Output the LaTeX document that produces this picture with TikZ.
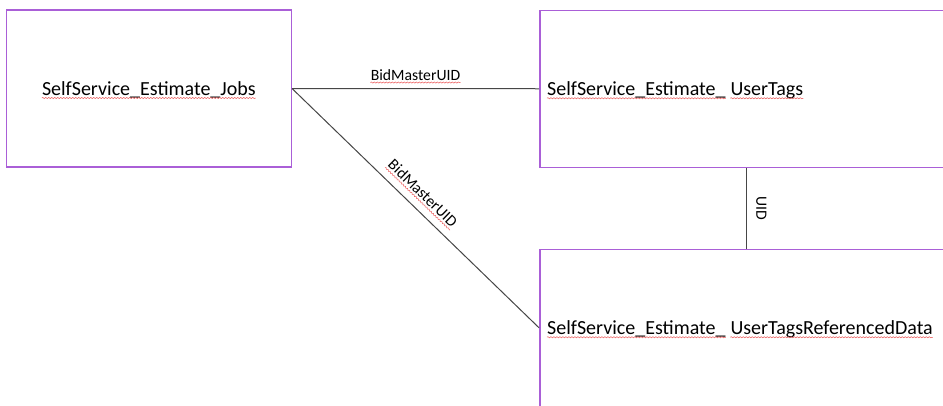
\documentclass[tikz,border=0pt]{standalone}
\usepackage{fontspec}
\setmainfont{Carlito}
\usepackage{tikz}
\usetikzlibrary{calc,decorations.pathmorphing}

\definecolor{boxpurple}{RGB}{170,95,215}
\definecolor{linegray}{RGB}{70,70,70}
\definecolor{wavered}{RGB}{235,90,90}

\tikzset{
  table/.style={draw=boxpurple, line width=1.5pt, rectangle, minimum height=157pt},
  tablename/.style={inner sep=0pt, font=\fontsize{20}{24}\selectfont},
  relation/.style={draw=linegray, line width=1pt},
  keylabel/.style={inner sep=0pt, font=\fontsize{15.7}{19}\selectfont},
  spell/.style={draw=wavered, line width=0.5pt, decorate,
    decoration={snake, segment length=3pt, amplitude=0.6pt}}
}

% red wavy line under a text node
\newcommand\spellmark[1]{\draw[spell] ($(#1.base west)!2.5pt!-90:(#1.base east)$) -- ($(#1.base east)!2.5pt!90:(#1.base west)$);}

\begin{document}
\begin{tikzpicture}[x=1pt, y=-1pt]
    \useasboundingbox (0,0) rectangle (943,405);
    \clip (0,0) rectangle (943,405);

    % Tables
    \node[table, minimum width=285pt] (jobs) at (148.8,88.5) {};
    \node[table, anchor=north west, minimum width=460pt] (tags) at (539,9.5) {};
    \node[table, anchor=north west, minimum width=460pt] (refdata) at (539,248.5) {};

    % Table names
    \node[tablename, anchor=base] (jobsname) at ([yshift=-7pt]jobs.center) {SelfService\_Estimate\_Jobs};
    \node[tablename, anchor=base west] (tagsA) at ([xshift=8pt, yshift=-7pt]tags.west) {SelfService\_Estimate\_};
    \node[tablename, anchor=base west] (tagsB) at ([xshift=4.5pt]tagsA.base east) {UserTags};
    \node[tablename, anchor=base west] (refA) at ([xshift=8pt, yshift=-7pt]refdata.west) {SelfService\_Estimate\_};
    \node[tablename, anchor=base west] (refB) at ([xshift=4.5pt]refA.base east) {UserTagsReferencedData};

    % Relations
    \draw[relation] (jobs.east) -- (tags.west)
        node[keylabel, midway, above=8pt] (bidtop) {BidMasterUID};
    \draw[relation] (jobs.east) -- (refdata.west)
        node[keylabel, pos=0.485, sloped, above=10pt] (biddiag) {BidMasterUID};
    \draw[relation] (tags.south west) ++(207.7,0) coordinate (uidtop) -- (uidtop |- refdata.north)
        node[keylabel, midway, sloped, above=9pt] (uid) {UID};

    % Spelling marks
    \foreach \n in {jobsname, tagsA, tagsB, refA, refB, bidtop, biddiag}
        \spellmark{\n};
\end{tikzpicture}
\end{document}
